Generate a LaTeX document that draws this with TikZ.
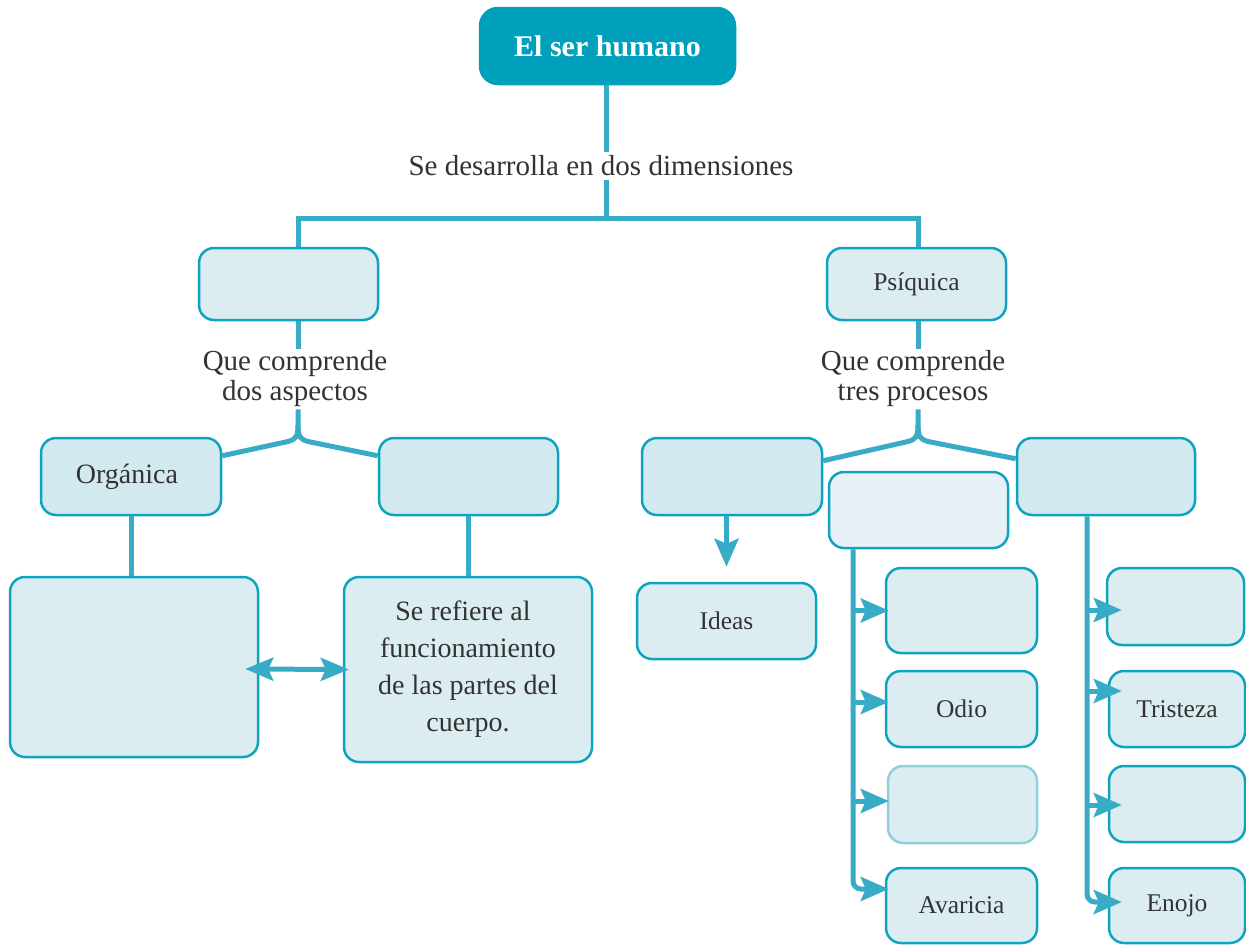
\documentclass[tikz,border=0pt]{standalone}
\usepackage{fontspec}
\setmainfont{Liberation Serif}
\usetikzlibrary{arrows.meta,calc}
\definecolor{topfill}{HTML}{00A0BC}
\definecolor{conncol}{HTML}{38ABC6}
\definecolor{boxline}{HTML}{0EA3BF}
\definecolor{boxfill}{HTML}{DCEDF2}
\definecolor{boxfilldk}{HTML}{D2E9EF}
\definecolor{boxfilllt}{HTML}{E8F1F8}
\definecolor{paleline}{HTML}{8FCFDD}
\definecolor{txt}{HTML}{333333}
\begin{document}
\begin{tikzpicture}[x=1pt,y=-1pt,
  box/.style={draw=boxline, fill=boxfill, rounded corners=15pt, line width=2.5pt,
    inner sep=0pt, align=center, text=txt, font=\fontsize{25.5}{30}\selectfont},
  dkbox/.style={box, fill=boxfilldk},
  lbl/.style={fill=white, inner sep=2pt, align=center, text=txt, font=\fontsize{29}{30}\selectfont},
  conn/.style={draw=conncol, line width=5pt},
  tipA/.style={-{Stealth[length=28pt,width=24pt,inset=5pt]}},
  arr/.style={conn, tipA},
  dblarr/.style={conn, {Stealth[length=28pt,width=23pt,inset=5pt]}-{Stealth[length=28pt,width=23pt,inset=5pt]}}
]
\useasboundingbox (0,0) rectangle (1246,945);

% top
\node[box, draw=topfill, fill=topfill, rounded corners=18pt, minimum width=255pt, minimum height=76pt,
  text=white, font=\fontsize{30}{32}\selectfont\bfseries] (top) at (607.5,46) {El ser humano};
\node[lbl, inner sep=4pt, font=\fontsize{29}{30}\selectfont] (sd) at (601,166) {Se desarrolla en dos dimensiones};

% level 1
\node[box, minimum width=179pt, minimum height=72pt] (fis) at (288.5,284) {};
\node[box, minimum width=179pt, minimum height=72pt] (psi) at (916.5,284) {Psíquica};

\node[lbl] (q1) at (295,379) {Que comprende\\dos aspectos};
\node[lbl] (q2) at (913,379) {Que comprende\\tres procesos};

% left branch
\node[dkbox, minimum width=180pt, minimum height=77pt, font=\fontsize{28}{30}\selectfont] (org) at (131,476.5) {\hspace*{-8pt}Orgánica};
\node[dkbox, minimum width=179pt, minimum height=77pt] (asp2) at (468.5,476.5) {};
\node[box, minimum width=248pt, minimum height=180pt] (big) at (134,667) {};
\node[box, minimum width=248pt, minimum height=185pt, font=\fontsize{28}{37}\selectfont] (ref) at (468,669.5)
  {\hspace*{-10pt}Se refiere al\\funcionamiento\\de las partes del\\cuerpo.};

% right branch
\node[dkbox, minimum width=180pt, minimum height=77pt] (A) at (732,476.5) {};
\node[box, fill=boxfilllt, minimum width=179pt, minimum height=76pt] (B) at (918.5,510) {};
\node[dkbox, minimum width=178pt, minimum height=77pt] (C) at (1106,476.5) {};
\node[box, minimum width=179pt, minimum height=76pt] (ideas) at (726.5,621) {Ideas};

\node[box, minimum width=151pt, minimum height=85pt] (D1) at (961.5,610.5) {};
\node[box, minimum width=151pt, minimum height=76pt] (odio) at (961.5,709) {Odio};
\node[box, draw=paleline, minimum width=149pt, minimum height=77pt] (D3) at (962.5,804.5) {};
\node[box, minimum width=151pt, minimum height=75pt] (avar) at (961.5,905.5) {Avaricia};

\node[box, minimum width=137pt, minimum height=77pt] (E1) at (1175.5,606.5) {};
\node[box, minimum width=136pt, minimum height=76pt] (trist) at (1177,709) {Tristeza};
\node[box, minimum width=136pt, minimum height=76pt] (E3) at (1177,804) {};
\node[box, minimum width=136pt, minimum height=75pt] (enojo) at (1177,905.5) {Enojo};

% coordinates
\coordinate (jm) at (606,218);
\coordinate (jl) at (298,218);
\coordinate (jr) at (918,218);
\coordinate (bl) at (298,425);
\coordinate (br) at (918,425);
\coordinate (tl) at ([xshift=-65.5pt]B.south);
\coordinate (tr) at ([xshift=-19pt]C.south);

% top connectors
\draw[conn] (top.south -| jm) -- (sd.north -| jm);
\draw[conn] (sd.south -| jm) -- (jm);
\draw[conn] (fis.north -| jl) -- (jl) -- (jr) -- (psi.north -| jr);

% left brace
\draw[conn] (fis.south -| jl) -- (q1.north -| jl);
\draw[conn] (q1.south -| bl) -- (bl) .. controls (298,437) and (296,439) .. (288,441.5) -- ([yshift=-19pt]org.north east);
\draw[conn] (bl) .. controls (298,437) and (300,439) .. (308,441.5) -- ([yshift=-19pt]asp2.north west);

% right brace
\draw[conn] (psi.south -| jr) -- (q2.north -| jr);
\draw[conn] (q2.south -| br) -- (br) .. controls (918,437) and (916,439) .. (908,441.5) -- ([yshift=-24pt]A.north east);
\draw[conn] (br) .. controls (918,437) and (920,439) .. (928,441.5) -- ([yshift=-22pt]C.north west);

% left lower
\draw[conn] (org.south) -- (org.south |- big.north);
\draw[conn] (asp2.south) -- (asp2.south |- ref.north);
\draw[dblarr] ([xshift=-14pt,yshift=-2pt]big.east) -- ([xshift=6pt]ref.west);

% ideas
\draw[arr] (A.south -| ideas.north) -- ([yshift=15pt]ideas.north);

% left column
\draw[conn, tipA, rounded corners=8pt] (tl) -- (853,889) -- ([xshift=4pt,yshift=16.5pt]avar.west);
\draw[arr] (853,610.5) -- ([xshift=4pt]D1.west);
\draw[arr] (853,702) -- ([xshift=4pt,yshift=7pt]odio.west);
\draw[arr] (853,801) -- ([xshift=2pt,yshift=3.5pt]D3.west);

% right column
\draw[conn, tipA, rounded corners=8pt] (tr) -- (1087,902) -- ([xshift=14pt,yshift=3.5pt]enojo.west);
\draw[arr] (1087,610) -- ([xshift=16pt,yshift=-3.5pt]E1.west);
\draw[arr] (1087,691) -- ([xshift=14pt,yshift=18pt]trist.west);
\draw[arr] (1087,805) -- ([xshift=14pt,yshift=-1pt]E3.west);
\end{tikzpicture}
\end{document}
